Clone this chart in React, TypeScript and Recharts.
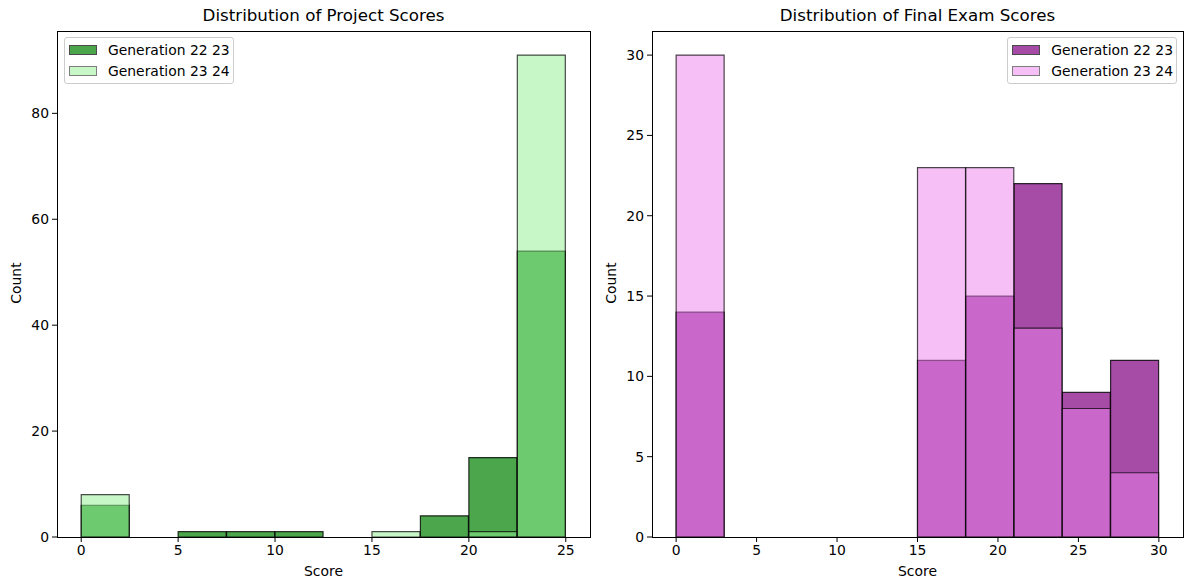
import { ComposedChart, Bar, XAxis, YAxis } from "recharts"

// bin centres (bin width 2.5 for the project, 3 for the exam)
const projectBins = [1.25, 3.75, 6.25, 8.75, 11.25, 13.75, 16.25, 18.75, 21.25, 23.75]
const projectGen2223 = [6, 0, 1, 1, 1, 0, 0, 4, 15, 54]
const projectGen2324 = [8, 0, 0, 0, 0, 0, 1, 0, 1, 91]
const projectXTicks = [0, 5, 10, 15, 20, 25]
const projectYTicks = [0, 20, 40, 60, 80]

const examBins = [1.5, 4.5, 7.5, 10.5, 13.5, 16.5, 19.5, 22.5, 25.5, 28.5]
const examGen2223 = [14, 0, 0, 0, 0, 11, 15, 22, 9, 11]
const examGen2324 = [30, 0, 0, 0, 0, 23, 23, 13, 8, 4]
const examXTicks = [0, 5, 10, 15, 20, 25, 30]
const examYTicks = [0, 5, 10, 15, 20, 25, 30]

const seriesNames = ["Generation 22 23", "Generation 23 24"]

const FONT = "'DejaVu Sans', sans-serif"
const PLOT_TOP = 31
const PLOT_BOTTOM = 537
const H = 584

interface PanelProps {
  title: string
  bins: number[]
  a: number[]
  b: number[]
  xDomain: [number, number]
  xTicks: number[]
  yDomain: [number, number]
  yTicks: number[]
  colorA: string
  colorB: string
  plotLeft: number
  plotRight: number
  legendRight?: boolean
}

function LegendBox({ colorA, colorB, style }: { colorA: string; colorB: string; style: any }) {
  const cols = [
    { c: colorA, o: 0.7 },
    { c: colorB, o: 0.5 },
  ]
  return (
    <div
      style={{
        position: "absolute",
        background: "rgba(255,255,255,0.8)",
        border: "1px solid #cccccc",
        borderRadius: 3,
        padding: "2px 3px 2px 4px",
        fontSize: 13.9,
        lineHeight: "20.5px",
        ...style,
      }}
    >
      {seriesNames.map((n, i) => (
        <div key={n} style={{ display: "flex", alignItems: "center", whiteSpace: "nowrap" }}>
          <span style={{ width: 28, height: 10, position: "relative", marginRight: 11, display: "inline-block" }}>
            <span style={{ position: "absolute", inset: 0, background: "#fff" }} />
            <span
              style={{
                position: "absolute",
                inset: 0,
                background: cols[i].c,
                opacity: cols[i].o,
                border: "1px solid #000",
                boxSizing: "border-box",
              }}
            />
          </span>
          <span>{n}</span>
        </div>
      ))}
    </div>
  )
}

function HistPanel(p: PanelProps) {
  const data = p.bins.map((x, i) => ({ x, a: p.a[i], b: p.b[i] }))
  const yAxisW = 44
  const chartLeft = p.plotLeft - yAxisW - 6
  const chartW = p.plotRight - chartLeft + 1
  const midX = (p.plotLeft + p.plotRight) / 2
  const tickStyle = { fontSize: 13.9, fill: "#000", fontFamily: FONT }

  return (
    <>
      <div style={{ position: "absolute", left: chartLeft, top: 0 }}>
        <ComposedChart
          width={chartW}
          height={H}
          data={data}
          barCategoryGap={0}
          barGap={0}
          margin={{ top: PLOT_TOP, right: 1, bottom: H - PLOT_BOTTOM - 30, left: 6 }}
        >
          <XAxis
            xAxisId="a"
            dataKey="x"
            type="number"
            domain={p.xDomain}
            ticks={p.xTicks}
            height={30}
            axisLine={false}
            tickLine={{ stroke: "#000" }}
            tickSize={5}
            tickMargin={3}
            tick={tickStyle}
            allowDataOverflow
          />
          <XAxis xAxisId="b" dataKey="x" type="number" domain={p.xDomain} hide allowDataOverflow />
          <YAxis
            type="number"
            domain={p.yDomain}
            ticks={p.yTicks}
            width={yAxisW}
            axisLine={false}
            tickLine={{ stroke: "#000" }}
            tickSize={5}
            tickMargin={3}
            tick={tickStyle}
            allowDataOverflow
          />
          <Bar
            xAxisId="a"
            dataKey="a"
            fill={p.colorA}
            fillOpacity={0.7}
            stroke="#000"
            strokeOpacity={0.8}
            strokeWidth={1.2}
            isAnimationActive={false}
          />
          <Bar
            xAxisId="b"
            dataKey="b"
            fill={p.colorB}
            fillOpacity={0.5}
            stroke="#000"
            strokeOpacity={0.7}
            strokeWidth={1.2}
            isAnimationActive={false}
          />
        </ComposedChart>
      </div>
      <div
        style={{
          position: "absolute",
          left: p.plotLeft,
          top: PLOT_TOP,
          width: p.plotRight - p.plotLeft + 1,
          height: PLOT_BOTTOM - PLOT_TOP + 1,
          border: "1px solid #000",
          boxSizing: "border-box",
          pointerEvents: "none",
        }}
      />
      <div
        style={{
          position: "absolute",
          left: midX - 200,
          width: 400,
          top: 5,
          textAlign: "center",
          fontSize: 16.7,
        }}
      >
        {p.title}
      </div>
      <div
        style={{
          position: "absolute",
          left: midX - 100,
          width: 200,
          top: 563,
          textAlign: "center",
          fontSize: 13.9,
        }}
      >
        Score
      </div>
      <div
        style={{
          position: "absolute",
          left: p.plotLeft - 57 + 16 - 50,
          width: 100,
          top: (PLOT_TOP + PLOT_BOTTOM) / 2 - 9,
          textAlign: "center",
          fontSize: 13.9,
          transform: "rotate(-90deg)",
        }}
      >
        Count
      </div>
      <LegendBox
        colorA={p.colorA}
        colorB={p.colorB}
        style={p.legendRight ? { right: 1184 - p.plotRight + 6, top: 37 } : { left: p.plotLeft + 7, top: 37 }}
      />
    </>
  )
}

export default function App() {
  return (
    <div
      style={{
        position: "fixed",
        left: 0,
        top: 0,
        width: 1184,
        height: 584,
        background: "#fff",
        fontFamily: FONT,
        color: "#000",
      }}
    >
      <HistPanel
        title="Distribution of Project Scores"
        bins={projectBins}
        a={projectGen2223}
        b={projectGen2324}
        xDomain={[-1.25, 26.25]}
        xTicks={projectXTicks}
        yDomain={[0, 95.55]}
        yTicks={projectYTicks}
        colorA="#008000"
        colorB="#90ee90"
        plotLeft={57}
        plotRight={590}
      />
      <HistPanel
        title="Distribution of Final Exam Scores"
        bins={examBins}
        a={examGen2223}
        b={examGen2324}
        xDomain={[-1.5, 31.5]}
        xTicks={examXTicks}
        yDomain={[0, 31.5]}
        yTicks={examYTicks}
        colorA="#800080"
        colorB="#ee82ee"
        plotLeft={652}
        plotRight={1183}
        legendRight
      />
    </div>
  )
}
